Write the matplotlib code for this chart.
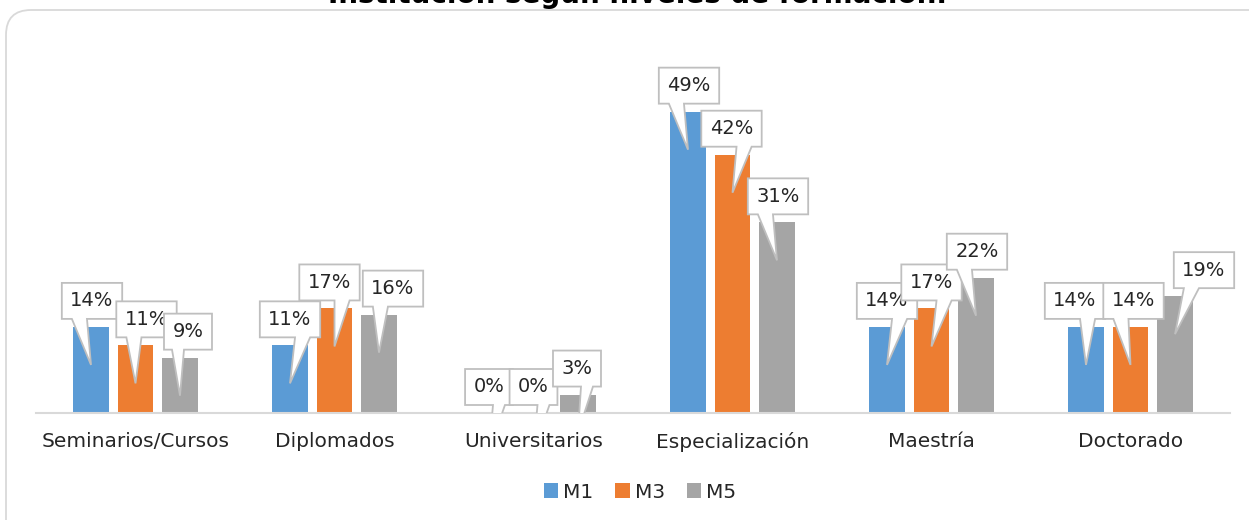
import matplotlib
matplotlib.use("Agg")
import matplotlib.pyplot as plt
import numpy as np
from matplotlib.patches import Polygon, FancyBboxPatch, Rectangle
from matplotlib.transforms import IdentityTransform

# ---- data ----
categories = ["Seminarios/Cursos", "Diplomados", "Universitarios",
              "Especialización", "Maestría", "Doctorado"]
series_names = ["M1", "M3", "M5"]
m1 = [14, 11, 0, 49, 14, 14]
m3 = [11, 17, 0, 42, 17, 14]
m5 = [9, 16, 3, 31, 22, 19]
title = "Institución según niveles de formación."

colors = ["#5B9BD5", "#ED7D31", "#A5A5A5"]
# horizontal offset (px) of each callout box relative to its pointer tip
label_dx = [[1, 11, 8], [0, -5, 14], [0, 0, -1],
            [1, -1, 1], [0, 0, 1], [-11, 3, 29]]

W, H, DPI = 1249, 520, 100
fig = plt.figure(figsize=(W / DPI, H / DPI), dpi=DPI)
plt.rcParams['font.family'] = ['DejaVu Sans']

# chart border (pixel coordinates, origin bottom-left)
border = FancyBboxPatch((6, -60), 1300, (H - 10) + 60,
                        boxstyle="round,pad=0,rounding_size=25",
                        transform=IdentityTransform(), fc="none", ec="#d9d9d9",
                        lw=1.3, zorder=-5)
fig.patches.append(border)

fig.text(638 / W, 1 - 3 / H, title, ha="center", va="baseline",
         fontsize=20, fontweight="bold", color="black")

left, right = 36 / W, 1230 / W
bottom, top = (H - 413) / H, (H - 44) / H
ax = fig.add_axes([left, bottom, right - left, top - bottom])
ax.set_facecolor("none")

x = np.arange(len(categories))
bw = 0.176
step = 0.2236
series = [m1, m3, m5]
for k, (vals, c, name) in enumerate(zip(series, colors, series_names)):
    ax.bar(x + (k - 1) * step, vals, width=bw, color=c, label=name, zorder=2)

ax.set_xlim(-0.5, len(categories) - 0.5)
ax.set_ylim(0, 60)
for s in ["top", "right", "left"]:
    ax.spines[s].set_visible(False)
ax.spines["bottom"].set_color("#d9d9d9")
ax.spines["bottom"].set_linewidth(1.5)
ax.set_yticks([])
ax.set_xticks(x)
ax.set_xticklabels(categories, fontsize=14.5, color="#262626")
ax.tick_params(axis="x", length=0, pad=14)

leg = fig.legend(loc="center", bbox_to_anchor=(640 / W, (H - 492) / H), ncol=3,
                 frameon=False, fontsize=14.5, handlelength=0.7, handleheight=0.7,
                 handletextpad=0.25, columnspacing=1.1, labelcolor="#262626")

# ---- callouts ----
fig.canvas.draw()
renderer = fig.canvas.get_renderer()
inv = ax.transData.inverted()
axbb = ax.bbox
clip_rect = Rectangle((0, axbb.y0), W, H, transform=IdentityTransform())
z = 5
for i in range(len(categories)):
    for k, vals in enumerate(series):
        v = vals[i]
        xc = x[i] + (k - 1) * step
        px, py = ax.transData.transform((xc, v))
        tipx, tipy = px, py - 38
        txt = f"{v}%"
        t = ax.text(0, 0, txt, fontsize=14, color="#262626", ha="center",
                    va="center", zorder=z + 1, clip_on=False)
        bb = t.get_window_extent(renderer)
        bwid = bb.width + 17
        bh = 36
        cx = tipx + label_dx[i][k]
        Bb = tipy + 46
        L, R, T = cx - bwid / 2, cx + bwid / 2, Bb + bh
        if tipx < cx:
            xb1, xb2 = L + bwid * 2 / 12, L + bwid * 5 / 12
        else:
            xb1, xb2 = L + bwid * 7 / 12, L + bwid * 10 / 12
        pts_px = [(L, Bb), (xb1, Bb), (tipx, tipy), (xb2, Bb), (R, Bb), (R, T), (L, T)]
        pts = inv.transform(pts_px)
        poly = Polygon(pts, closed=True, fc="white", ec="#bfbfbf", lw=1.3,
                       zorder=z)
        ax.add_patch(poly)
        poly.set_clip_path(clip_rect)
        cpos = inv.transform((cx, Bb + bh / 2))
        t.set_position(cpos)
        z += 2

fig.savefig("out.png", dpi=DPI)
